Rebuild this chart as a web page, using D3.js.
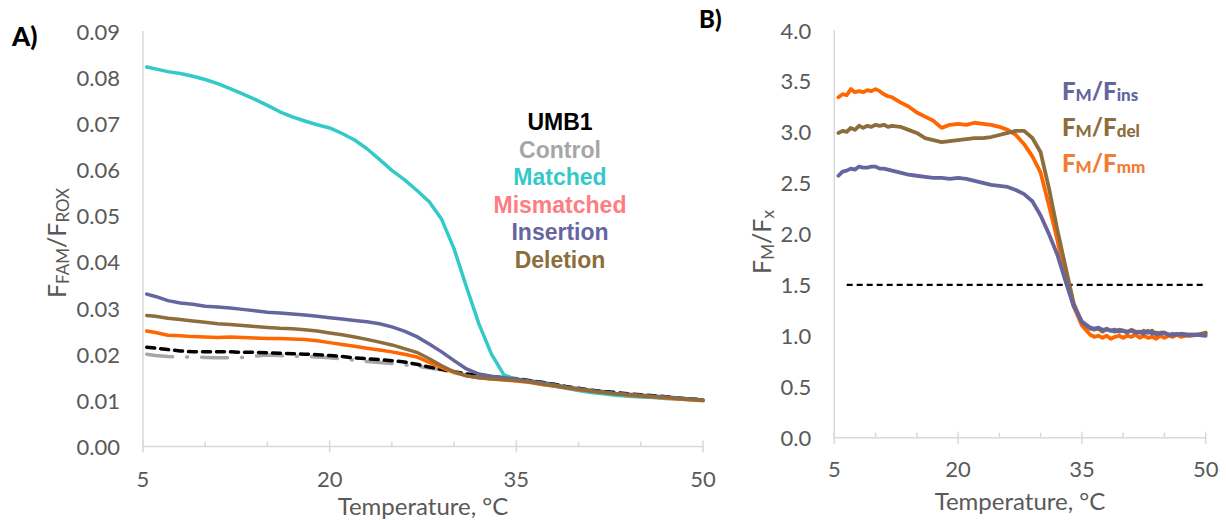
<!DOCTYPE html>
<html>
<head>
<meta charset="utf-8">
<script src="https://cdn.jsdelivr.net/npm/d3@7"></script>
<style>
  html, body { margin: 0; padding: 0; background: #fff; }
  svg { display: block; }
</style>
</head>
<body>
<svg id="chart" width="1226" height="520"></svg>
<script>
// ---------- Panel A data ----------
const tempsA = [5.3,6,7,8,9,10,11,12,13,14,15,16,17,18,19,20,21,22,23,24,25,26,27,28,29,30,31,32,33,34,35,36,37,38,39,40,41,42,43,44,45,46,47,48,49,50];
const controlA = [0.0200,0.0197,0.0195,0.0194,0.0194,0.0193,0.0192,0.0192,0.0193,0.0196,0.0198,0.0197,0.0196,0.0195,0.0194,0.0192,0.0190,0.0187,0.0184,0.0182,0.0180,0.0177,0.0174,0.0170,0.0166,0.0161,0.0157,0.0154,0.0151,0.0149,0.0147,0.0143,0.0139,0.0135,0.0130,0.0126,0.0122,0.0119,0.0116,0.0113,0.0111,0.0109,0.0107,0.0105,0.0103,0.0101];
const umb1A = [0.0215,0.0213,0.0210,0.0207,0.0205,0.0205,0.0205,0.0205,0.0204,0.0204,0.0203,0.0202,0.0201,0.0200,0.0199,0.0197,0.0195,0.0192,0.0190,0.0188,0.0186,0.0183,0.0178,0.0172,0.0167,0.0162,0.0157,0.0154,0.0151,0.0149,0.0147,0.0143,0.0139,0.0135,0.0130,0.0126,0.0122,0.0119,0.0117,0.0114,0.0112,0.0110,0.0108,0.0105,0.0103,0.0101];
const matchedA = [0.0822,0.0818,0.0812,0.0808,0.0802,0.0795,0.0786,0.0775,0.0764,0.0752,0.0739,0.0725,0.0714,0.0705,0.0697,0.0690,0.0678,0.0664,0.0645,0.0622,0.0598,0.0578,0.0555,0.0530,0.0492,0.0428,0.0345,0.0265,0.0200,0.0155,0.0145,0.0140,0.0135,0.0131,0.0126,0.0121,0.0117,0.0114,0.0111,0.0109,0.0107,0.0106,0.0104,0.0103,0.0101,0.0100];
const mismatchedA = [0.0250,0.0247,0.0241,0.0240,0.0238,0.0237,0.0236,0.0237,0.0236,0.0235,0.0234,0.0234,0.0233,0.0232,0.0229,0.0225,0.0221,0.0217,0.0213,0.0209,0.0205,0.0200,0.0194,0.0182,0.0171,0.0160,0.0153,0.0149,0.0146,0.0144,0.0142,0.0139,0.0135,0.0131,0.0127,0.0123,0.0120,0.0117,0.0114,0.0111,0.0109,0.0107,0.0105,0.0103,0.0101,0.0099];
const insertionA = [0.0330,0.0325,0.0316,0.0311,0.0308,0.0304,0.0302,0.0300,0.0297,0.0294,0.0291,0.0289,0.0287,0.0285,0.0282,0.0279,0.0276,0.0273,0.0270,0.0266,0.0259,0.0250,0.0238,0.0222,0.0205,0.0186,0.0168,0.0157,0.0152,0.0149,0.0146,0.0142,0.0138,0.0134,0.0129,0.0125,0.0121,0.0118,0.0115,0.0113,0.0111,0.0109,0.0107,0.0105,0.0103,0.0101];
const deletionA = [0.0284,0.0282,0.0278,0.0275,0.0272,0.0269,0.0266,0.0264,0.0262,0.0260,0.0258,0.0256,0.0255,0.0253,0.0250,0.0246,0.0242,0.0237,0.0232,0.0226,0.0220,0.0212,0.0204,0.0190,0.0175,0.0162,0.0153,0.0149,0.0147,0.0145,0.0143,0.0140,0.0136,0.0132,0.0128,0.0124,0.0120,0.0117,0.0114,0.0112,0.0110,0.0108,0.0106,0.0104,0.0102,0.0100];
const yTicksA = [0,0.01,0.02,0.03,0.04,0.05,0.06,0.07,0.08,0.09];
const legendA = ["UMB1","Control","Matched","Mismatched","Insertion","Deletion"];

// ---------- Panel B data ----------
const tempsB = [5.5,6,6.5,7,7.5,8,8.5,9,9.5,10,10.5,11,11.5,12,13,14,15,16,17,18,19,20,21,22,23,24,25,26,27,28,29,30,31,32,33,34,35,36,36.5,37,37.5,38,38.5,39,39.5,40,40.5,41,41.5,42,42.5,43,43.5,44,44.5,45,45.5,46,46.5,47,48,49,50];
const ratioMm = [3.34,3.37,3.36,3.42,3.39,3.40,3.39,3.41,3.40,3.42,3.40,3.37,3.35,3.34,3.29,3.25,3.19,3.15,3.11,3.04,3.07,3.08,3.07,3.09,3.08,3.07,3.05,3.02,2.97,2.88,2.76,2.60,2.28,1.95,1.56,1.29,1.10,1.01,0.99,1.00,0.98,1.00,0.97,0.99,1.00,0.98,1.00,0.99,1.01,0.98,1.00,0.98,0.99,0.97,1.00,0.98,1.00,0.99,1.01,0.99,1.01,1.01,1.02];
const ratioDel = [2.99,3.01,3.00,3.04,3.02,3.06,3.04,3.06,3.05,3.07,3.06,3.07,3.05,3.06,3.05,3.02,2.99,2.94,2.92,2.90,2.91,2.92,2.93,2.94,2.94,2.95,2.97,2.99,3.01,3.01,2.94,2.80,2.45,2.05,1.68,1.32,1.13,1.07,1.06,1.07,1.04,1.07,1.05,1.04,1.06,1.05,1.03,1.06,1.04,1.03,1.05,1.03,1.05,1.01,1.03,1.03,1.01,1.00,1.02,1.01,1.00,1.01,1.03];
const ratioIns = [2.57,2.61,2.62,2.64,2.63,2.66,2.65,2.65,2.66,2.66,2.64,2.64,2.63,2.62,2.60,2.58,2.57,2.56,2.55,2.55,2.54,2.55,2.54,2.52,2.50,2.48,2.47,2.46,2.43,2.39,2.32,2.18,2.00,1.80,1.54,1.29,1.14,1.08,1.07,1.08,1.06,1.06,1.05,1.06,1.04,1.05,1.04,1.05,1.03,1.04,1.02,1.05,1.02,1.03,1.02,1.03,1.01,1.02,1.01,1.02,1.01,1.01,1.00];
const thresholdB = 1.5;
const thresholdRange = [6.5, 50];
const yTicksB = [0,0.5,1.0,1.5,2.0,2.5,3.0,3.5,4.0];
const xMajorTicks = [5,20,35,50];
const xMinorTicks = [10,15,25,30,40,45];

const svg = d3.select("#chart");
const font = "Lato, 'Open Sans', sans-serif";
const axisColor = "#d9d9d9";
const textColor = "#595959";

function drawAxes(g, x, y, yTicks, yFmt, xLabelY, tickLabelY) {
  const [x0, x1] = x.range();
  const [yb, yt] = y.range();
  g.append("line").attr("x1", x0).attr("x2", x0).attr("y1", yt).attr("y2", yb)
    .attr("stroke", axisColor).attr("stroke-width", 1.5);
  g.append("line").attr("x1", x0).attr("x2", x1).attr("y1", yb).attr("y2", yb)
    .attr("stroke", axisColor).attr("stroke-width", 1.5);
  g.selectAll(null).data(xMajorTicks).join("line")
    .attr("x1", d => x(d)).attr("x2", d => x(d)).attr("y1", yb - 6).attr("y2", yb + 6)
    .attr("stroke", axisColor).attr("stroke-width", 1.5);
  g.selectAll(null).data(xMinorTicks).join("line")
    .attr("x1", d => x(d)).attr("x2", d => x(d)).attr("y1", yb - 5).attr("y2", yb)
    .attr("stroke", axisColor).attr("stroke-width", 1.5);
  g.selectAll(null).data(xMajorTicks).join("text")
    .attr("x", d => x(d)).attr("y", tickLabelY).attr("text-anchor", "middle")
    .attr("dominant-baseline", "central")
    .attr("font-family", font).attr("font-size", 22).attr("fill", textColor)
    .text(d => d);
  g.selectAll(null).data(yTicks).join("text")
    .attr("x", x0 - 23).attr("y", d => y(d)).attr("text-anchor", "end")
    .attr("dominant-baseline", "central")
    .attr("font-family", font).attr("font-size", 22).attr("fill", textColor)
    .text(yFmt);
  g.append("text").attr("x", (x0 + x1) / 2).attr("y", xLabelY).attr("text-anchor", "middle")
    .attr("dominant-baseline", "central")
    .attr("font-family", font).attr("font-size", 24).attr("fill", textColor)
    .text("Temperature, °C");
}

// ---------- Panel A ----------
const xA = d3.scaleLinear().domain([5, 50]).range([143, 703]);
const yA = d3.scaleLinear().domain([0, 0.09]).range([446.5, 31]);
const gA = svg.append("g");
drawAxes(gA, xA, yA, yTicksA, d3.format(".2f"), 505, 478);

const ytA = gA.append("text").attr("transform", "translate(66,243) rotate(-90)")
  .attr("text-anchor", "middle").attr("font-family", font).attr("font-size", 25).attr("fill", textColor);
ytA.append("tspan").text("F");
ytA.append("tspan").attr("font-size", 17).attr("dy", 3).text("FAM");
ytA.append("tspan").attr("dy", -3).text("/F");
ytA.append("tspan").attr("font-size", 17).attr("dy", 3).text("ROX");

const lineA = arr => d3.line().x((d, i) => xA(tempsA[i])).y(d => yA(d))(arr);
const seriesA = [
  { v: controlA, c: "#a6a6a6", w: 3.5, dash: "26,14,1,14" },
  { v: umb1A, c: "#000000", w: 3.5, dash: "8,6" },
  { v: matchedA, c: "#33c9c9", w: 3.5 },
  { v: mismatchedA, c: "#ff6600", w: 3.5 },
  { v: insertionA, c: "#65659f", w: 3.5 },
  { v: deletionA, c: "#8c6d3b", w: 3.5 }
];
seriesA.forEach(s => {
  gA.append("path").attr("d", lineA(s.v)).attr("fill", "none")
    .attr("stroke", s.c).attr("stroke-width", s.w)
    .attr("stroke-linejoin", "round").attr("stroke-linecap", "round")
    .attr("stroke-dasharray", s.dash || null);
});

const legColorsA = ["#000000", "#a6a6a6", "#33c9c9", "#ff7c80", "#65659f", "#8c6d3b"];
gA.selectAll(null).data(legendA).join("text")
  .attr("x", 560).attr("y", (d, i) => 130 + i * 27.6)
  .attr("text-anchor", "middle")
  .attr("font-family", "'Liberation Sans', Arial, sans-serif").attr("font-weight", "bold")
  .attr("font-size", 23).attr("fill", (d, i) => legColorsA[i])
  .text(d => d);

svg.append("text").attr("x", 12).attr("y", 46).attr("font-family", font)
  .attr("font-weight", "900").attr("font-size", 26).attr("fill", "#000").text("A)");

// ---------- Panel B ----------
const xB = d3.scaleLinear().domain([5, 50]).range([834.3, 1205.7]);
const yB = d3.scaleLinear().domain([0, 4]).range([437.7, 30]);
const gB = svg.append("g");
drawAxes(gB, xB, yB, yTicksB, d3.format(".1f"), 500, 468);

const ytB = gB.append("text").attr("transform", "translate(771,242) rotate(-90)")
  .attr("text-anchor", "middle").attr("font-family", font).attr("font-size", 25).attr("fill", textColor);
ytB.append("tspan").text("F");
ytB.append("tspan").attr("font-size", 17).attr("dy", 3).text("M");
ytB.append("tspan").attr("dy", -3).text("/F");
ytB.append("tspan").attr("font-size", 17).attr("dy", 3).text("x");

gB.append("line").attr("x1", xB(thresholdRange[0])).attr("x2", xB(thresholdRange[1]))
  .attr("y1", yB(thresholdB)).attr("y2", yB(thresholdB))
  .attr("stroke", "#000").attr("stroke-width", 2.2).attr("stroke-dasharray", "6,4");

const lineB = arr => d3.line().x((d, i) => xB(tempsB[i])).y(d => yB(d))(arr);
const seriesB = [
  { v: ratioMm, c: "#ff6600" },
  { v: ratioDel, c: "#8c6d3b" },
  { v: ratioIns, c: "#65659f" }
];
seriesB.forEach(s => {
  gB.append("path").attr("d", lineB(s.v)).attr("fill", "none")
    .attr("stroke", s.c).attr("stroke-width", 3.8)
    .attr("stroke-linejoin", "round").attr("stroke-linecap", "round");
});

const legendB = [
  { sub: "ins", c: "#65659f" },
  { sub: "del", c: "#8c6d3b" },
  { sub: "mm", c: "#f07c35" }
];
legendB.forEach((d, i) => {
  const t = gB.append("text").attr("x", 1062).attr("y", 100 + i * 36)
    .attr("font-family", font).attr("font-weight", "900").attr("font-size", 24).attr("fill", d.c);
  t.append("tspan").text("F");
  t.append("tspan").attr("font-size", 17).attr("dy", 1).text("M");
  t.append("tspan").attr("dy", -1).text("/F");
  t.append("tspan").attr("font-size", 17).attr("dy", 1).text(d.sub);
});

svg.append("text").attr("x", 699).attr("y", 28).attr("font-family", font)
  .attr("font-weight", "900").attr("font-size", 24).attr("fill", "#000").text("B)");
</script>
</body>
</html>
